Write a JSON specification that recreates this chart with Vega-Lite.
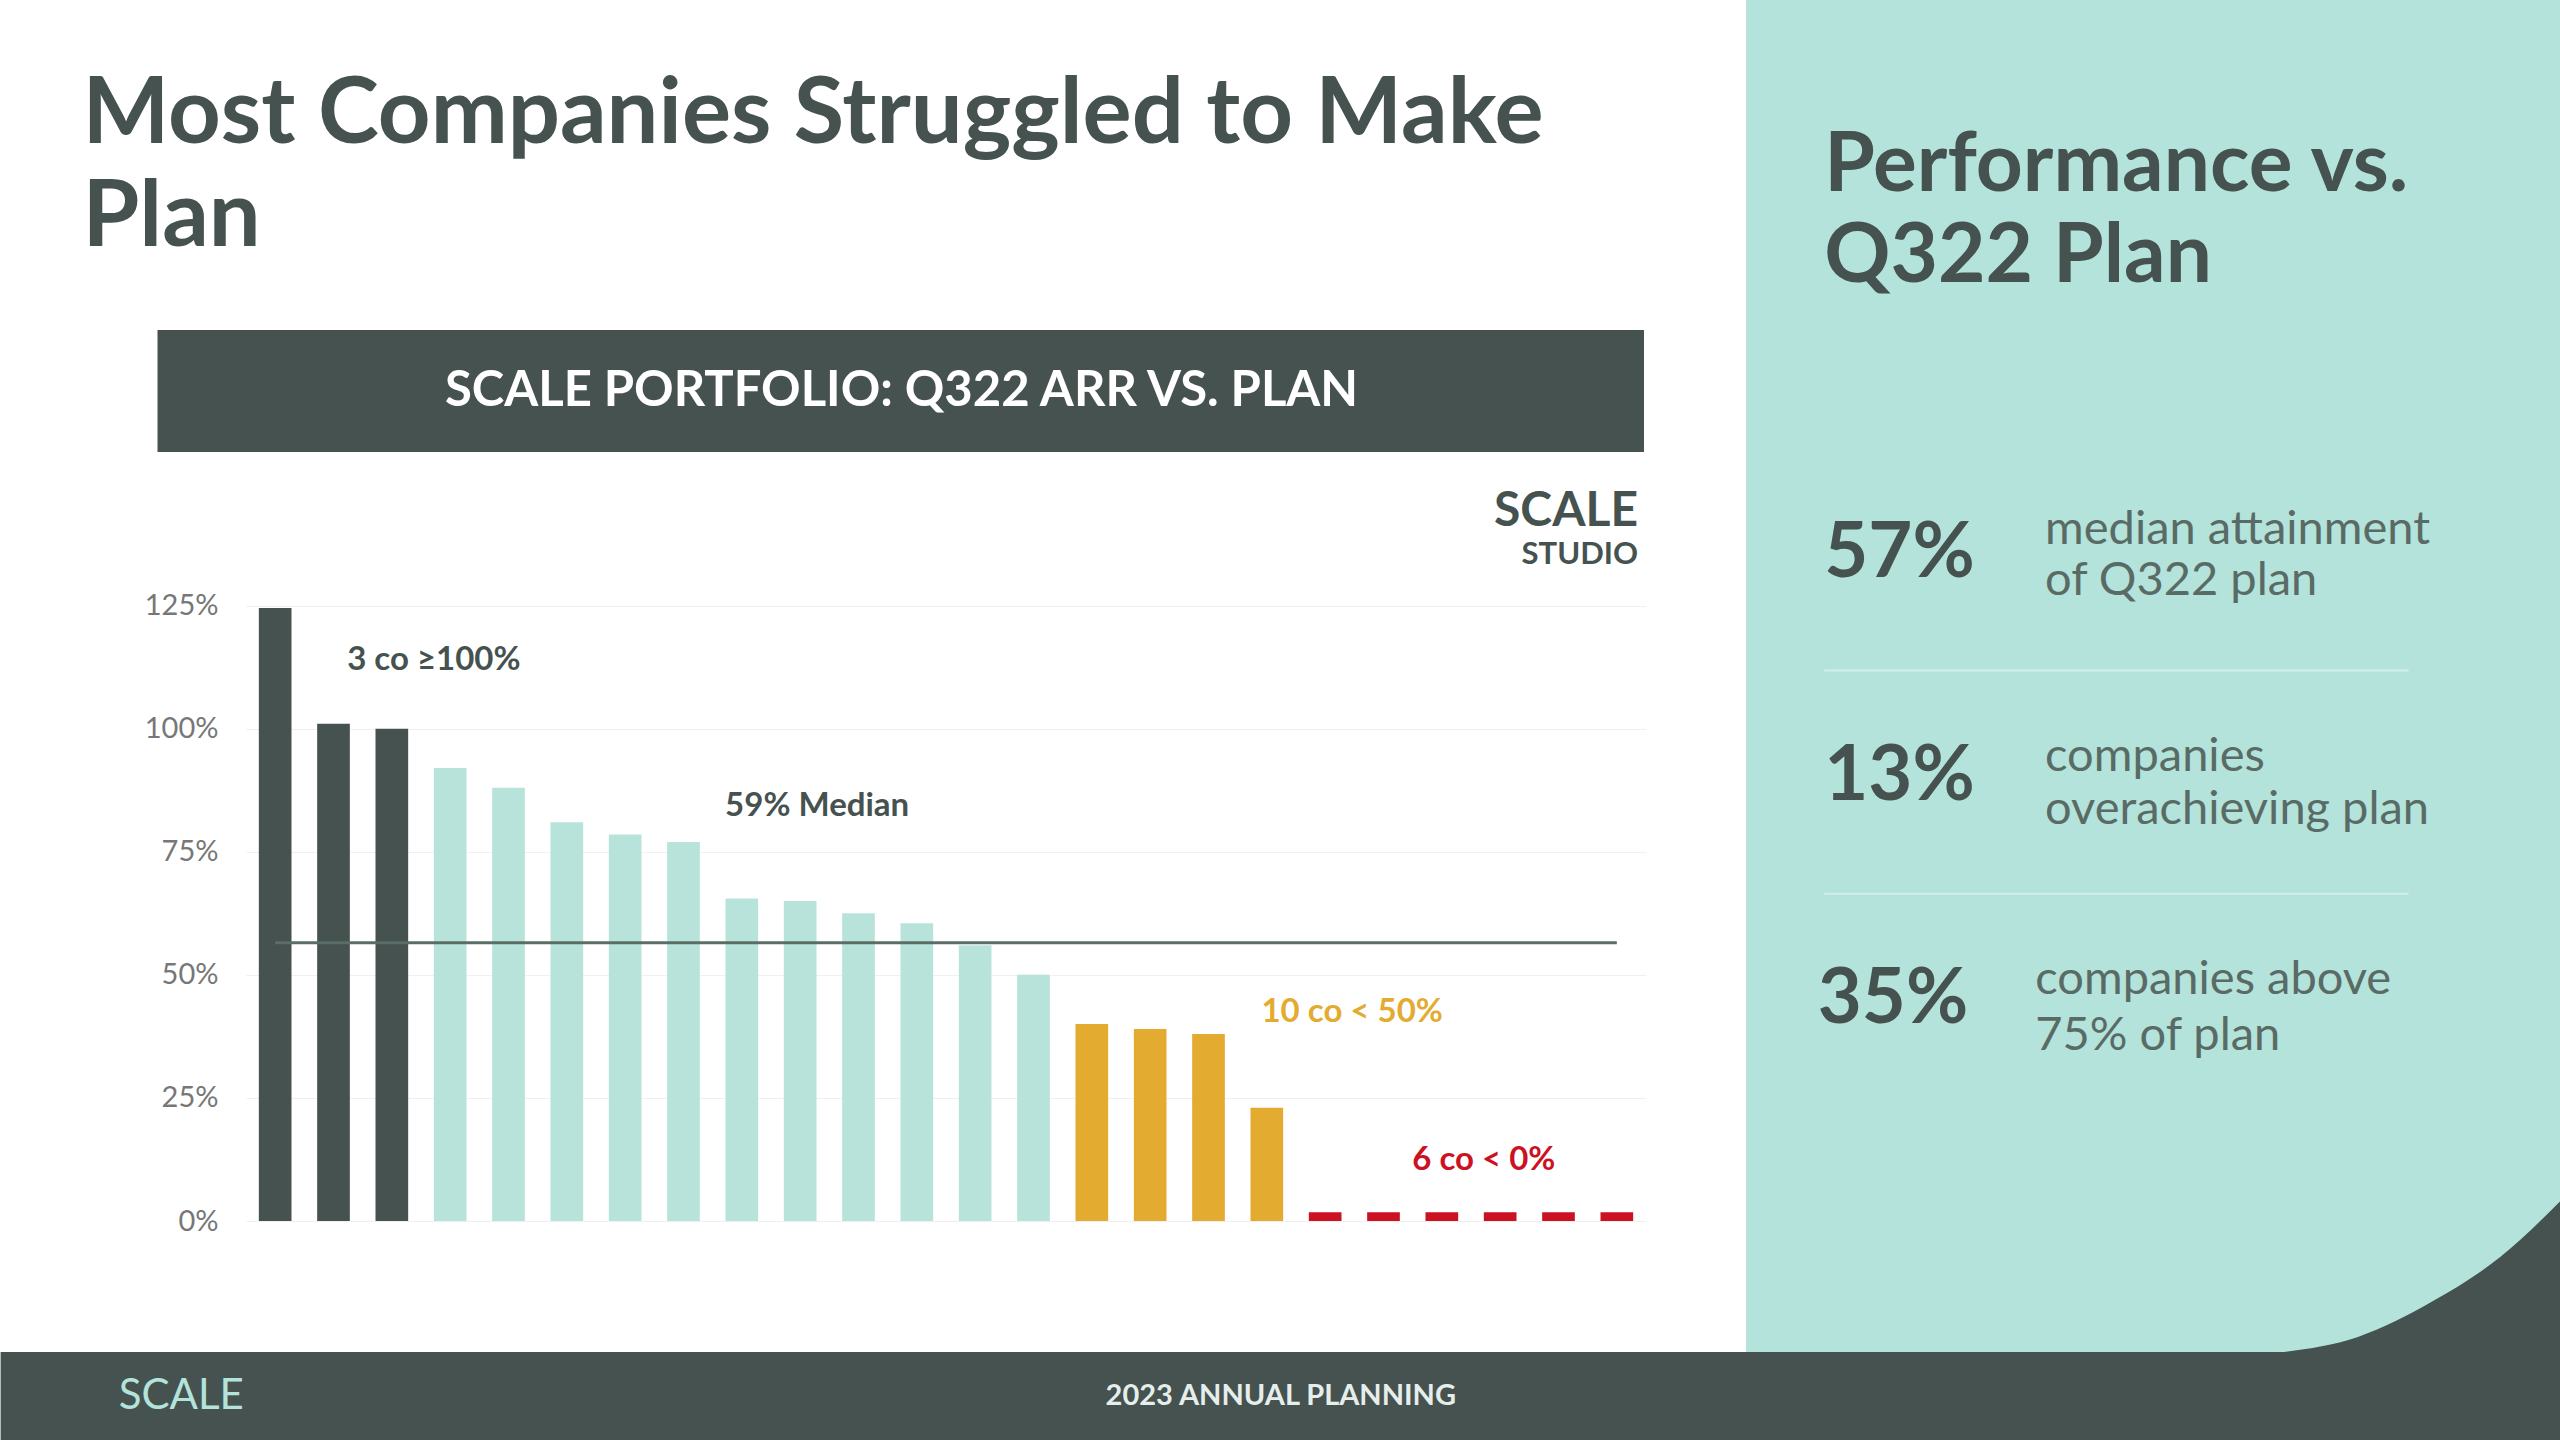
{
"$schema":"https://vega.github.io/schema/vega-lite/v6.json",
"padding":0,"background":"white","spacing":0,
"config":{"view":{"stroke":null},"font":"Lato","concat":{"spacing":0}},
"vconcat":[
{"hconcat":[
 {"vconcat":[
  {"width":1500,"height":294,
   "data":{"values":[{"t":"Most Companies Struggled to Make","x":-10.9,"y":39},{"t":"Plan","x":-10.9,"y":74}]},
   "mark":{"type":"text","align":"left","baseline":"middle","fontSize":92,"fontWeight":"bold","color":"#45524f"},
   "encoding":{"x":{"field":"x","type":"quantitative","scale":{"domain":[0,100]},"axis":null},
     "y":{"field":"y","type":"quantitative","scale":{"domain":[0,100],"reverse":true},"axis":{"labels":false,"ticks":false,"domain":false,"grid":false,"title":null,"minExtent":245}},
     "text":{"field":"t"}}},
  {"width":1500,"height":122,
   "layer":[
    {"data":{"values":[{"x":-5.9,"x2":93.2,"y":0,"y2":100}]},
     "mark":{"type":"rect","color":"#45524f"},
     "encoding":{"x":{"field":"x","type":"quantitative","scale":{"domain":[0,100]},"axis":null},"x2":{"field":"x2"},
       "y":{"field":"y","type":"quantitative","scale":{"domain":[0,100]},"axis":{"labels":false,"ticks":false,"domain":false,"grid":false,"title":null,"minExtent":245}},"y2":{"field":"y2"}}},
    {"data":{"values":[{"t":"SCALE PORTFOLIO: Q322 ARR VS. PLAN","x":43.7,"y":50}]},
     "mark":{"type":"text","align":"center","baseline":"middle","fontSize":49,"fontWeight":"bold","color":"white"},
     "encoding":{"x":{"field":"x","type":"quantitative"},"y":{"field":"y","type":"quantitative"},"text":{"field":"t"}}}
   ]},
  {"width":1400,"height":640,
   "title":{"text":"SCALE","subtitle":"STUDIO","anchor":"end","fontSize":48,"fontWeight":"bold","color":"#45524f","subtitleFontSize":31,"subtitleFontWeight":"bold","subtitleColor":"#45524f","subtitlePadding":4,"offset":11,"dx":-8},
   "layer":[
    {"data":{"values":[
      {"i":1,"v":124.5,"g":"top"},{"i":2,"v":101,"g":"top"},{"i":3,"v":100,"g":"top"},
      {"i":4,"v":92,"g":"mid"},{"i":5,"v":88,"g":"mid"},{"i":6,"v":81,"g":"mid"},{"i":7,"v":78.5,"g":"mid"},{"i":8,"v":77,"g":"mid"},
      {"i":9,"v":65.5,"g":"mid"},{"i":10,"v":65,"g":"mid"},{"i":11,"v":62.5,"g":"mid"},{"i":12,"v":60.5,"g":"mid"},{"i":13,"v":56,"g":"mid"},{"i":14,"v":50,"g":"mid"},
      {"i":15,"v":40,"g":"low"},{"i":16,"v":39,"g":"low"},{"i":17,"v":38,"g":"low"},{"i":18,"v":23,"g":"low"},
      {"i":19,"v":1.8,"g":"neg"},{"i":20,"v":1.8,"g":"neg"},{"i":21,"v":1.8,"g":"neg"},{"i":22,"v":1.8,"g":"neg"},{"i":23,"v":1.8,"g":"neg"},{"i":24,"v":1.8,"g":"neg"}]},
     "mark":{"type":"bar"},
     "encoding":{
      "x":{"field":"i","type":"ordinal","scale":{"paddingInner":0.44,"paddingOuter":0.22},"axis":null},
      "y":{"field":"v","type":"quantitative","scale":{"domain":[0,125]},
        "axis":{"values":[0,25,50,75,100,125],"labelExpr":"datum.value + '%'","ticks":false,"domain":false,"title":null,"labelPadding":28,"minExtent":245,"labelFontSize":29,"labelColor":"#777","gridColor":"#f0f0f0"}},
      "color":{"field":"g","type":"nominal","scale":{"domain":["top","mid","low","neg"],"range":["#45524f","#b8e3da","#e3ab2f","#cc1122"]},"legend":null}}},
    {"data":{"values":[{"m":56.5,"a":1,"b":24}]},
     "mark":{"type":"rule","color":"#5b6e66","strokeWidth":3},
     "encoding":{"y":{"field":"m","type":"quantitative"},"x":{"field":"a","type":"ordinal"},"x2":{"field":"b"}}},
    {"data":{"values":[
      {"i":4,"y":114,"t":"3 co ≥100%","c":"#45524f","dx":0},
      {"i":11,"y":84.2,"t":"59% Median","c":"#45524f","dx":-25},
      {"i":20,"y":42.4,"t":"10 co < 50%","c":"#e3ab2f","dx":-15},
      {"i":22,"y":12.3,"t":"6 co < 0%","c":"#cc1122","dx":0}]},
     "mark":{"type":"text","fontSize":33,"fontWeight":"bold","align":"center","baseline":"middle"},
     "encoding":{"x":{"field":"i","type":"ordinal"},"y":{"field":"y","type":"quantitative"},"text":{"field":"t"},"color":{"field":"c","type":"nominal","scale":null},"xOffset":{"field":"dx","type":"quantitative","scale":null}}}
   ]}
 ],"spacing":36},
 {"width":815,"height":1352,"view":{"fill":"#b3e3da","stroke":null},
  "layer":[
   {"data":{"values":[{"x":66,"y":100},{"x":75,"y":98.9},{"x":84.4,"y":96.2},{"x":92.5,"y":93},{"x":100,"y":88.8}]},
    "mark":{"type":"area","color":"#45524f","interpolate":"monotone","opacity":1},
    "encoding":{"x":{"field":"x","type":"quantitative","scale":{"domain":[0,100]},"axis":null},
      "y":{"field":"y","type":"quantitative","scale":{"domain":[0,100],"reverse":true},"axis":null},"y2":{"datum":100}}},
   {"data":{"values":[
     {"t":"Performance vs.","x":9.6,"y":12.3},
     {"t":"Q322 Plan","x":9.6,"y":19}]},
    "mark":{"type":"text","align":"left","baseline":"middle","fontSize":82,"fontWeight":"bold","color":"#45524f"},
    "encoding":{"x":{"field":"x","type":"quantitative"},"y":{"field":"y","type":"quantitative"},"text":{"field":"t"}}},
   {"data":{"values":[
     {"t":"57%","x":9.6,"y":41},{"t":"13%","x":9.6,"y":57.5},{"t":"35%","x":8.8,"y":74}]},
    "mark":{"type":"text","align":"left","baseline":"middle","fontSize":76,"fontWeight":"bold","color":"#45524f"},
    "encoding":{"x":{"field":"x","type":"quantitative"},"y":{"field":"y","type":"quantitative"},"text":{"field":"t"}}},
   {"data":{"values":[
     {"t":"median attainment","x":36.7,"y":39.2},
     {"t":"of Q322 plan","x":36.7,"y":43},
     {"t":"companies","x":36.7,"y":56},
     {"t":"overachieving plan","x":36.7,"y":59.9},
     {"t":"companies above","x":35.5,"y":72.5},
     {"t":"75% of plan","x":35.5,"y":76.6}]},
    "mark":{"type":"text","align":"left","baseline":"middle","fontSize":47,"color":"#5a6b66"},
    "encoding":{"x":{"field":"x","type":"quantitative"},"y":{"field":"y","type":"quantitative"},"text":{"field":"t"}}},
   {"data":{"values":[{"x":9.6,"x2":81.3,"y":49.6},{"x":9.6,"x2":81.3,"y":66.1}]},
    "mark":{"type":"rule","color":"#d3efe9","strokeWidth":2},
    "encoding":{"x":{"field":"x","type":"quantitative"},"x2":{"field":"x2"},"y":{"field":"y","type":"quantitative"}}}
  ]}
]},
{"width":2315,"height":88,
 "layer":[
  {"data":{"values":[{"x":-10.6,"x2":100,"y":0,"y2":100}]},
   "mark":{"type":"rect","color":"#45524f"},
   "encoding":{"x":{"field":"x","type":"quantitative","scale":{"domain":[0,100]},"axis":null},"x2":{"field":"x2"},
     "y":{"field":"y","type":"quantitative","scale":{"domain":[0,100]},"axis":{"labels":false,"ticks":false,"domain":false,"grid":false,"title":null,"minExtent":245}},"y2":{"field":"y2"}}},
  {"data":{"values":[{"t":"SCALE","x":-5.5,"y":50}]},
   "mark":{"type":"text","baseline":"middle","align":"left","fontSize":42,"color":"#b3e3da"},
   "encoding":{"x":{"field":"x","type":"quantitative"},"y":{"field":"y","type":"quantitative"},"text":{"field":"t"}}},
  {"data":{"values":[{"t":"2023 ANNUAL PLANNING","x":44.7,"y":50}]},
   "mark":{"type":"text","baseline":"middle","align":"center","fontSize":29,"fontWeight":"bold","color":"#e6eeec"},
   "encoding":{"x":{"field":"x","type":"quantitative"},"y":{"field":"y","type":"quantitative"},"text":{"field":"t"}}}
 ]}
]}
